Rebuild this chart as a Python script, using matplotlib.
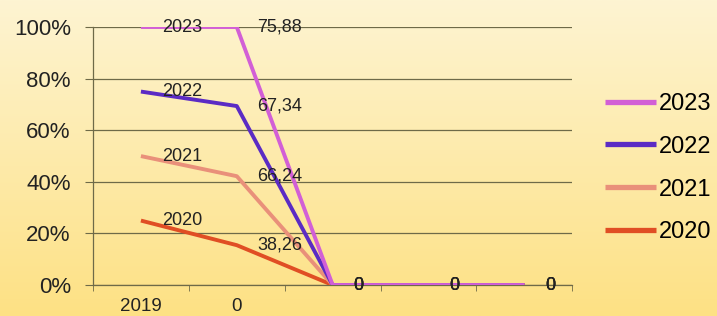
import numpy as np
import matplotlib
matplotlib.use('Agg')
import matplotlib.pyplot as plt
from matplotlib.colors import LinearSegmentedColormap

plt.rcParams['font.family'] = ['Liberation Sans', 'DejaVu Sans']

cats = ['2019', '0', '', '', '']
series = ['2020', '2021', '2022', '2023']
s2020 = [2020, 38.26, 0, 0, 0]
s2021 = [2021, 66.24, 0, 0, 0]
s2022 = [2022, 67.34, 0, 0, 0]
s2023 = [2023, 75.88, 0, 0, 0]
colors = ['#E04E24', '#E9907A', '#5B2BC4', '#D25FD6']

vals = np.array([s2020, s2021, s2022, s2023], dtype=float)
tot = vals.sum(axis=0)
pct = np.where(tot > 0, np.cumsum(vals, axis=0) / np.where(tot > 0, tot, 1) * 100, 0)

fig = plt.figure(figsize=(7.17, 3.16), dpi=100)

# gradient background
bg = fig.add_axes([0, 0, 1, 1], zorder=-10)
cmap = LinearSegmentedColormap.from_list('bg', ['#FDF4D2', '#FEE184'])
bg.imshow(np.linspace(0, 1, 256).reshape(-1, 1), aspect='auto', cmap=cmap,
          extent=[0, 1, 0, 1])
bg.axis('off')

ax = fig.add_axes([0.1297, 0.098, 0.6685, 0.8165])
ax.patch.set_alpha(0)
x = np.arange(len(cats))

def fmt(v):
    if float(v).is_integer():
        return '%d' % v
    return ('%.2f' % v).replace('.', ',')

for i, name in enumerate(series):
    ax.plot(x, pct[i], color=colors[i], lw=2.8, solid_capstyle='butt', zorder=3)
    for j in range(len(cats)):
        ax.annotate(fmt(vals[i, j]), (x[j], pct[i, j]), xytext=(15, 0),
                    textcoords='offset points', ha='left', va='center',
                    fontsize=13, color='#222222', zorder=4)

ax.set_xlim(-0.5, len(cats) - 0.5)
ax.set_ylim(0, 100)
ax.set_yticks(np.arange(0, 101, 20))
ax.set_yticklabels(['%d%%' % v for v in range(0, 101, 20)], fontsize=16, color='#222222')
ax.yaxis.grid(True, color='#6E6A48', lw=0.9)
ax.set_axisbelow(True)

ax.set_xticks(x)
ax.set_xticklabels(cats, fontsize=13.5, color='#222222')
ax.set_xticks(np.arange(-0.5, len(cats)), minor=True)
ax.tick_params(axis='x', which='major', length=0, pad=9)
ax.tick_params(axis='x', which='minor', length=4, color='#6E6A48')
ax.tick_params(axis='y', length=6, color='#6E6A48', pad=10)

for s in ['top', 'right']:
    ax.spines[s].set_visible(False)
for s in ['left', 'bottom']:
    ax.spines[s].set_color('#6E6A48')
    ax.spines[s].set_linewidth(0.9)

handles = ax.get_lines()[::-1]
leg = fig.legend(handles, series[::-1], loc='center left', bbox_to_anchor=(0.844, 0.468),
                 frameon=False, fontsize=17, handlelength=2.15, handletextpad=0.12,
                 labelspacing=0.88, borderpad=0, borderaxespad=0)
for h in leg.legend_handles:
    h.set_linewidth(3.8)

fig.savefig('out.png', dpi=100)
